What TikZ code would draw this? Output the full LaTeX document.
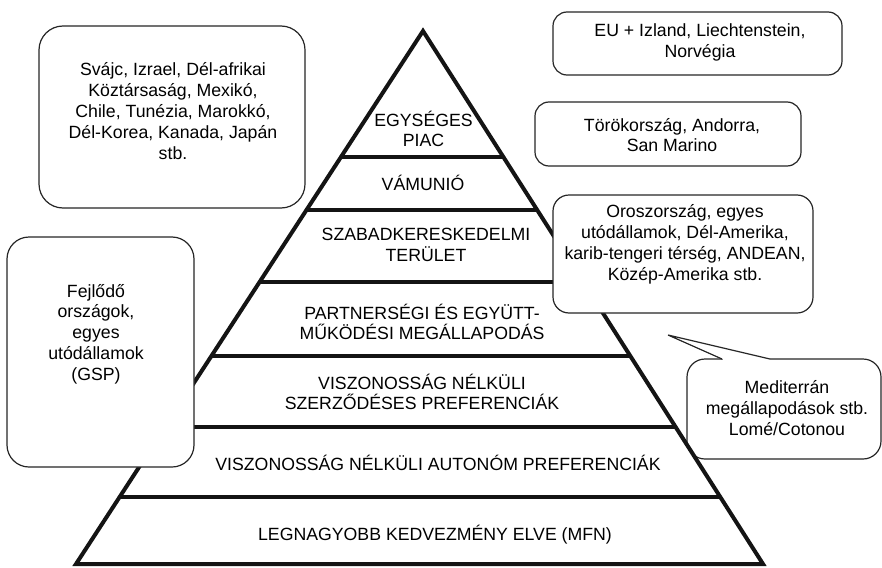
\documentclass[tikz,border=0pt]{standalone}
\usepackage{fontspec}
\setmainfont{Liberation Sans}
\begin{document}
\begin{tikzpicture}[x=1pt,y=-1pt,
  every node/.style={font=\fontsize{17.7}{20.8}\selectfont, text=black, inner sep=0pt, align=center},
  pyr/.style={line width=4pt, draw=black!92, line join=miter},
  layer/.style={line width=3.3pt, draw=black!92},
  box/.style={draw=black!85, line width=1.2pt, fill=white},
]
\useasboundingbox (0,0) rectangle (882,567);

% callout box (drawn below the pyramid)
\node[box, rounded corners=18pt, minimum width=194pt, minimum height=100pt] (medbox) at (784,409) {};
\coordinate (medtip) at (668,335);
\coordinate (medl) at (722,359);
\coordinate (medr) at (770,359);
\fill[white] (722.5,357.5) rectangle (769.5,360.4);
\fill[white] (medl) -- (medtip) -- (medr) -- cycle;
\draw[draw=black!85, line width=1.2pt] (medl) -- (medtip) -- (medr);

% pyramid
\coordinate (apex) at (423,31);
\coordinate (bl) at (76,564);
\coordinate (br) at (763,564);
\begin{scope}
  \clip (apex) -- (bl) -- (br) -- cycle;
  \foreach \yy in {157,210,282,356,427,497} \draw[layer] (0,\yy) -- (882,\yy);
\end{scope}
\draw[pyr] (apex) -- (bl) -- (br) -- cycle;

% boxes over the pyramid
\node[box, rounded corners=24pt, minimum width=266pt, minimum height=182pt] (svajcbox) at (172,117) {};
\node[box, rounded corners=14pt, minimum width=289pt, minimum height=63pt] (eubox) at (697.5,43.5) {};
\node[box, rounded corners=14pt, minimum width=266pt, minimum height=64pt] (torokbox) at (668,134) {};
\node[box, rounded corners=16pt, minimum width=260pt, minimum height=118pt] (oroszbox) at (683,254) {};
\node[box, rounded corners=22pt, minimum width=187pt, minimum height=230pt] (fejlbox) at (100.5,352) {};

% box texts
\node (svajc) at (173,111) {Svájc, Izrael, Dél-afrikai\\Köztársaság, Mexikó,\\Chile, Tunézia, Marokkó,\\Dél-Korea, Kanada, Japán\\stb.};
\node (eu) at (700,42.5) {EU + Izland, Liechtenstein,\\Norvégia};
\node (torok) at (672,135) {Törökország, Andorra,\\San Marino};
\node (orosz) at (685,244.5) {Oroszország, egyes\\utódállamok, Dél-Amerika,\\karib-tengeri térség, ANDEAN,\\Közép-Amerika stb.};
\node (fejl) at (96,334) {Fejlődő\\országok,\\egyes\\utódállamok\\(GSP)};
\node (med) at (787,408) {Mediterrán\\megállapodások stb.\\Lomé/Cotonou};

% pyramid layer texts
\node (l1) at (423.5,129) {EGYSÉGES\\PIAC};
\node (l2) at (423,183) {VÁMUNIÓ};
\node (l3) at (426,245) {SZABADKERESKEDELMI\\TERÜLET};
\node (l4) at (422,322) {PARTNERSÉGI ÉS EGYÜTT-\\MŰKÖDÉSI MEGÁLLAPODÁS};
\node (l5) at (422,392) {VISZONOSSÁG NÉLKÜLI\\SZERZŐDÉSES PREFERENCIÁK};
\node (l6) at (438,463) {VISZONOSSÁG NÉLKÜLI AUTONÓM PREFERENCIÁK};
\node (l7) at (435,535) {LEGNAGYOBB KEDVEZMÉNY ELVE (MFN)};
\end{tikzpicture}
\end{document}
